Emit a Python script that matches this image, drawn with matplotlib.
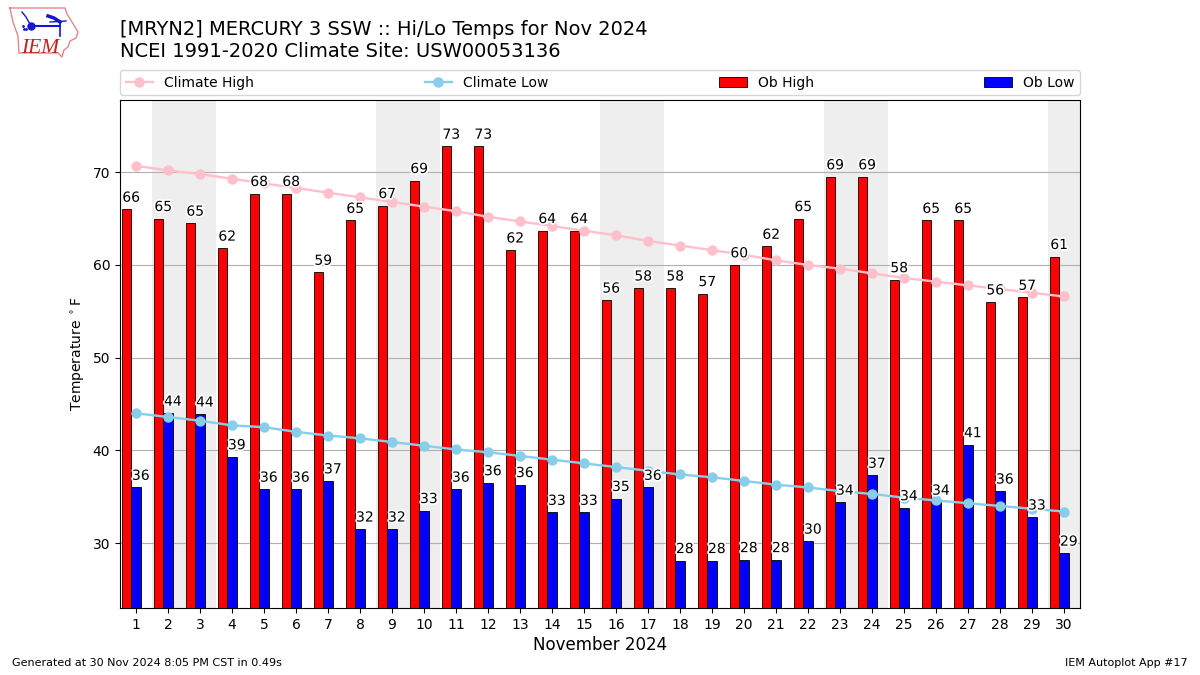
import matplotlib
matplotlib.use('Agg')
import matplotlib.pyplot as plt
import matplotlib.patheffects as PathEffects
import numpy as np

days = list(range(1, 31))
ob_high = [66.0, 65.0, 64.5, 61.8, 67.7, 67.7, 59.2, 64.8, 66.4, 69.1, 72.8, 72.8, 61.6, 63.7, 63.7, 56.2, 57.5, 57.5, 56.9, 60.0,
           62.0, 65.0, 69.5, 69.5, 58.4, 64.8, 64.8, 56.0, 56.5, 60.9]
ob_low = [36.0, 44.0, 43.9, 39.3, 35.8, 35.8, 36.7, 31.5, 31.5, 33.5, 35.8, 36.5, 36.3, 33.3, 33.3, 34.8, 36.0, 28.1, 28.1, 28.2,
          28.2, 30.2, 34.4, 37.3, 33.8, 34.4, 40.6, 35.6, 32.8, 28.9]
high_labels = [66, 65, 65, 62, 68, 68, 59, 65, 67, 69, 73, 73, 62, 64, 64, 56, 58, 58, 57, 60,
               62, 65, 69, 69, 58, 65, 65, 56, 57, 61]
low_labels = [36, 44, 44, 39, 36, 36, 37, 32, 32, 33, 36, 36, 36, 33, 33, 35, 36, 28, 28, 28,
              28, 30, 34, 37, 34, 34, 41, 36, 33, 29]
climate_high = [70.7, 70.2, 69.8, 69.3, 68.8, 68.3, 67.8, 67.3, 66.8, 66.3, 65.8, 65.2, 64.7, 64.2, 63.7, 63.2, 62.6, 62.1, 61.6, 61.1,
                60.5, 60.0, 59.6, 59.1, 58.6, 58.2, 57.8, 57.4, 57.0, 56.6]
climate_low = [44.0, 43.6, 43.2, 42.7, 42.5, 42.0, 41.6, 41.3, 40.9, 40.5, 40.1, 39.8, 39.4, 39.0, 38.6, 38.2, 37.8, 37.4, 37.1, 36.7,
               36.3, 36.0, 35.6, 35.3, 34.9, 34.6, 34.3, 34.0, 33.7, 33.4]
weekend_starts = [2, 9, 16, 23, 30]

x = np.array(days)
fig = plt.figure(figsize=(12, 6.75), dpi=100)
ax = fig.add_axes([0.1, 0.0993, 0.8, 0.7526])

for start in weekend_starts:
    ax.axvspan(start - 0.5, start + 1.5, color='#eeeeee', lw=0, zorder=0)

width = 0.3
# bars sit left of the tick, blue one centred on it
b1 = ax.bar(x - width, ob_high, width, color='red', edgecolor='k', linewidth=0.6, zorder=2)
b2 = ax.bar(x, ob_low, width, color='blue', edgecolor='k', linewidth=0.6, zorder=2)
l1, = ax.plot(x, climate_high, color='pink', marker='o', ms=6.5, lw=1.7, zorder=3)
l2, = ax.plot(x, climate_low, color='skyblue', marker='o', ms=6.5, lw=1.7, zorder=3)

halo = [PathEffects.withStroke(linewidth=2.5, foreground='white')]
for d, h, l, hl, ll in zip(x, ob_high, ob_low, high_labels, low_labels):
    ax.text(d - width / 2, h + 0.5, str(hl), ha='center', va='bottom', fontsize=10, zorder=4, path_effects=halo)
    ax.text(d + width / 2, l + 0.5, str(ll), ha='center', va='bottom', fontsize=10, zorder=4, path_effects=halo)

ax.set_xlim(0.5, 30.5)
ax.set_ylim(23, 77.8)
ax.set_xticks(days)
ax.set_yticks([30, 40, 50, 60, 70])
ax.grid(axis='y', color='#b0b0b0', lw=0.8, zorder=1)
ax.set_axisbelow(True)
ax.tick_params(labelsize=10)
ax.set_ylabel(r'Temperature $^\circ$F', fontsize=10)
ax.set_xlabel('November 2024', fontsize=12, labelpad=3.4)

ax.legend([l1, l2, b1, b2], ['Climate High', 'Climate Low', 'Ob High', 'Ob Low'], loc='lower left',
          bbox_to_anchor=(0, 1.0095, 1, 0.05), mode='expand', ncol=4, borderaxespad=0, fontsize=10)

fig.text(0.1, 0.9095, '[MRYN2] MERCURY 3 SSW :: Hi/Lo Temps for Nov 2024\nNCEI 1991-2020 Climate Site: USW00053136',
         fontsize=14, va='bottom', ha='left')
fig.text(0.01, 0.0105, 'Generated at 30 Nov 2024 8:05 PM CST in 0.49s', fontsize=8, va='bottom')
fig.text(0.99, 0.0105, 'IEM Autoplot App #17', fontsize=8, va='bottom', ha='right')

# logo, rough redraw in pixel coords
logo = fig.add_axes([0, 1 - 65 / 675, 90 / 1200, 65 / 675])
logo.set_xlim(0, 90)
logo.set_ylim(65, 0)
logo.axis('off')
logo.plot([10, 65, 67, 72, 78, 76, 70, 68, 64, 62, 58, 19, 18, 13, 10],
          [8, 8, 14, 22, 32, 38, 41, 47, 50, 57, 53, 53, 36, 22, 8], color='#e08888', lw=1)
logo.plot([31, 60], [26, 26], color='#1515d5', lw=1.5)
logo.plot([31], [26], 'o', color='#1515d5', ms=5)
logo.plot([22, 26, 31], [12, 17, 26], color='#1515d5', lw=1)
logo.plot([48, 54, 60], [16, 18, 22], color='#1515d5', lw=2.5)
logo.plot([50, 66], [22, 21], color='#1515d5', lw=1)
logo.plot([60, 60], [21, 36], color='#1515d5', lw=1.2)
logo.plot([24, 26, 23], [29, 29, 26], '.', color='#1515d5', ms=2)
logo.text(21, 53, 'IEM', fontsize=15.5, family='Liberation Serif', style='italic', color='#c8201c', va='baseline')

fig.savefig('out.png', dpi=100)
